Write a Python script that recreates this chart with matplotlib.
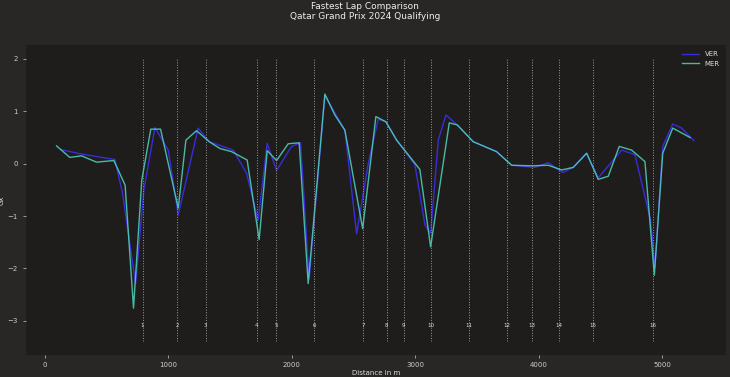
import numpy as np
import matplotlib
matplotlib.use("Agg")
import matplotlib.pyplot as plt

# Distance (m) and Gx for each driver
ver_dist = [130, 283, 567, 629, 735, 802, 891, 999, 1080, 1241, 1331, 1525, 1633, 1727,
            1800, 1876, 1997, 2070, 2140, 2267, 2429, 2524, 2618, 2699, 2761, 2848, 2996,
            3077, 3123, 3185, 3247, 3339, 3468, 3657, 3779, 3968, 4075, 4192, 4278, 4386,
            4480, 4670, 4777, 4904, 4939, 5002, 5083, 5155, 5255]
ver_gx = [0.27, 0.19, 0.08, -0.56, -2.3, -0.5, 0.69, 0.26, -0.98, 0.68, 0.42, 0.26, -0.18, -1.08,
          0.39, -0.13, 0.33, 0.40, -2.2, 1.30, 0.64, -1.34, 0.0, 0.85, 0.80, 0.45, -0.02,
          -1.17, -1.33, 0.45, 0.93, 0.74, 0.42, 0.23, -0.03, -0.07, 0.02, -0.17, -0.07, 0.20,
          -0.27, 0.26, 0.17, -1.08, -1.97, 0.33, 0.76, 0.68, 0.44]

mer_dist = [95, 202, 297, 418, 559, 650, 718, 785, 858, 937, 1080, 1142, 1228, 1331, 1417,
            1512, 1638, 1735, 1800, 1876, 1970, 2059, 2132, 2267, 2348, 2429, 2573, 2680,
            2761, 2848, 3036, 3123, 3274, 3339, 3468, 3657, 3779, 3941, 4075, 4184, 4278,
            4386, 4480, 4561, 4650, 4750, 4858, 4934, 5002, 5083, 5223]
mer_gx = [0.34, 0.12, 0.15, 0.03, 0.06, -0.41, -2.76, -0.31, 0.66, 0.66, -0.85, 0.45, 0.63, 0.42, 0.29,
          0.23, 0.07, -1.45, 0.25, 0.06, 0.38, 0.40, -2.29, 1.33, 0.93, 0.64, -1.24, 0.90,
          0.80, 0.45, -0.11, -1.59, 0.78, 0.74, 0.42, 0.23, -0.03, -0.04, -0.03, -0.12, -0.07,
          0.20, -0.30, -0.24, 0.33, 0.26, 0.04, -2.13, 0.20, 0.68, 0.50]

corner_dist = [791, 1074, 1301, 1714, 1870, 2181, 2578, 2767, 2904, 3126, 3436, 3738, 3941,
               4159, 4435, 4923]
corner_num = [str(i) for i in range(1, 17)]

fig = plt.figure(figsize=(7.3, 3.77), dpi=100, facecolor="#282726")
ax = fig.add_axes([0.035, 0.059, 0.9595, 0.822])
ax.set_facecolor("#1e1d1c")

ax.plot(ver_dist, ver_gx, color="#3b2bd9", lw=1.0, label="VER")
ax.plot(mer_dist, mer_gx, color="#4fd6bd", lw=1.0, alpha=0.85, label="MER")

ax.vlines(corner_dist, ymin=-3.38, ymax=2.0, linestyles="dotted", colors="#9a9a9a", lw=0.7)
for d, n in zip(corner_dist, corner_num):
    ax.text(d, -3.1, n, ha="center", va="center", fontsize=4, color="#dddddd")

ax.set_xlim(-156, 5514)
ax.set_ylim(-3.65, 2.27)
ax.set_xticks([0, 1000, 2000, 3000, 4000, 5000])
ax.set_yticks([-3, -2, -1, 0, 1, 2])
ax.tick_params(colors="#cccccc", labelsize=5, length=2, width=0.5)
for s in ax.spines.values():
    s.set_visible(False)

ax.set_xlabel("Distance in m", fontsize=5, color="#dddddd", labelpad=1)
ax.set_ylabel("Gx", fontsize=5, color="#dddddd", labelpad=2)

leg = ax.legend(loc="upper right", fontsize=5, frameon=False, handlelength=2.5)
for t in leg.get_texts():
    t.set_color("#dddddd")

fig.suptitle("Fastest Lap Comparison\nQatar Grand Prix 2024 Qualifying", fontsize=6.5,
             color="#eeeeee", y=0.995)

fig.savefig("out.png", dpi=100, facecolor=fig.get_facecolor())
